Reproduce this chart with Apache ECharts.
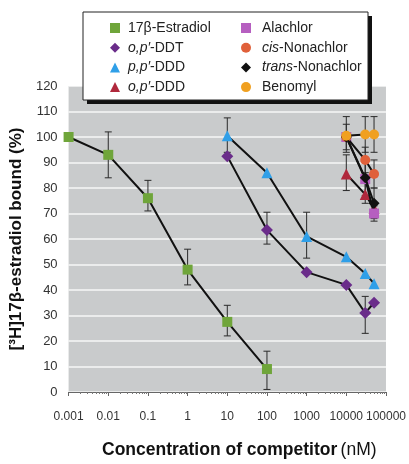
<!DOCTYPE html>
<html>
<head>
<meta charset="utf-8">
<script src="https://cdn.jsdelivr.net/npm/echarts@6/dist/echarts.min.js"></script>
<style>
  html, body { margin: 0; padding: 0; background: #fff; }
  #chart { width: 409px; height: 464px; }
</style>
</head>
<body>
<div id="chart"></div>
<script>
// tick labels of the log axis
const xTickLabels = ["0.001", "0.01", "0.1", "1", "10", "100", "1000", "10000", "100000"];

// 17beta-Estradiol
const estX = [0.001, 0.01, 0.1, 1, 10, 100];
const estY = [100, 93, 76, 48, 27.5, 9];
const estLo = [null, 84, 71, 42, 22, 1];
const estHi = [null, 102, 83, 56, 34, 16];

// o,p'-DDT
const ddtX = [10, 100, 1000, 10000, 30000, 50000];
const ddtY = [92.5, 63.5, 47, 42, 31, 35];
const ddtLo = [null, 58, null, null, 23, null];
const ddtHi = [null, 70.5, null, null, 37.5, null];

// p,p'-DDD
const ppdddX = [10, 100, 1000, 10000, 30000, 50000];
const ppdddY = [100.5, 86, 61, 53, 46.5, 42.5];
const ppdddLo = [94, null, 52.5, null, null, null];
const ppdddHi = [107.5, null, 70.5, null, null, null];

// o,p'-DDD
const opdddX = [10000, 30000, 50000];
const opdddY = [85.5, 77.5, 72];
const opdddLo = [79, 74, null];
const opdddHi = [93, 82, null];

// Alachlor
const alaX = [10000, 30000, 50000];
const alaY = [100, 83.5, 70];
const alaLo = [95, null, 67];
const alaHi = [105, null, 73];

// cis-Nonachlor
const cisX = [10000, 30000, 50000];
const cisY = [100, 91, 85.5];
const cisLo = [null, 86, 80];
const cisHi = [null, 96, 91];

// trans-Nonachlor
const transX = [10000, 30000, 50000];
const transY = [100, 84, 74];
const transLo = [null, 77, 68];
const transHi = [null, 92, 80];

// Benomyl
const benX = [10000, 30000, 50000];
const benY = [100.5, 101, 101];
const benLo = [94, 94, 94];
const benHi = [108, 108, 108];

const FONT = "'Liberation Sans', Arial, sans-serif";

const groups = [
  { name: "17β-Estradiol", x: estX, y: estY, lo: estLo, hi: estHi, color: "#6fa53a", symbol: "rect", size: 10 },
  { name: "o,p′-DDT", x: ddtX, y: ddtY, lo: ddtLo, hi: ddtHi, color: "#6a2c8a", symbol: "diamond", size: 12 },
  { name: "p,p′-DDD", x: ppdddX, y: ppdddY, lo: ppdddLo, hi: ppdddHi, color: "#2f9fe8", symbol: "triangle", size: 11 },
  { name: "o,p′-DDD", x: opdddX, y: opdddY, lo: opdddLo, hi: opdddHi, color: "#b0283c", symbol: "triangle", size: 11 },
  { name: "Alachlor", x: alaX, y: alaY, lo: alaLo, hi: alaHi, color: "#b65fc0", symbol: "rect", size: 10 },
  { name: "cis-Nonachlor", x: cisX, y: cisY, lo: cisLo, hi: cisHi, color: "#e0603a", symbol: "circle", size: 10 },
  { name: "trans-Nonachlor", x: transX, y: transY, lo: transLo, hi: transHi, color: "#111111", symbol: "diamond", size: 11 },
  { name: "Benomyl", x: benX, y: benY, lo: benLo, hi: benHi, color: "#f0a020", symbol: "circle", size: 10 }
];

const italicPart = {
  "o,p′-DDT": "o,p′",
  "p,p′-DDD": "p,p′",
  "o,p′-DDD": "o,p′",
  "cis-Nonachlor": "cis",
  "trans-Nonachlor": "trans"
};

function legendFormatter(name) {
  let it = italicPart[name];
  if (!it) return name;
  return "{i|" + it + "}" + name.slice(it.length);
}

function renderErr(params, api) {
  let x = api.value(0),
    pLo = api.coord([x, api.value(1)]),
    pHi = api.coord([x, api.value(2)]),
    w = 3.5,
    st = { stroke: "#2a2a2a", lineWidth: 1 };
  return {
    type: "group",
    children: [
      { type: "line", shape: { x1: pLo[0], y1: pLo[1], x2: pHi[0], y2: pHi[1] }, style: st },
      { type: "line", shape: { x1: pLo[0] - w, y1: pLo[1], x2: pLo[0] + w, y2: pLo[1] }, style: st },
      { type: "line", shape: { x1: pHi[0] - w, y1: pHi[1], x2: pHi[0] + w, y2: pHi[1] }, style: st }
    ]
  };
}

let errData = [];
groups.forEach(g => {
  for (let i = 0; i < g.x.length; i++) {
    if (g.lo[i] != null) errData.push([g.x[i], g.lo[i], g.hi[i]]);
  }
});

let series = [
  {
    type: "custom",
    name: "err",
    renderItem: renderErr,
    encode: { x: 0, y: [1, 2] },
    data: errData,
    z: 1,
    silent: true
  }
];
groups.forEach((g, k) => {
  series.push({
    type: "line",
    name: g.name,
    data: g.x.map((v, i) => [v, g.y[i]]),
    symbol: g.symbol,
    symbolSize: g.size,
    showAllSymbol: true,
    itemStyle: { color: g.color, opacity: 1 },
    lineStyle: { color: "#111", width: 2 },
    z: 2 + k,
    animation: false
  });
});

function legendData(list) {
  return list.map(g => ({ name: g.name, icon: g.symbol, itemStyle: { color: g.color } }));
}

let legendText = {
  fontFamily: FONT,
  fontSize: 14,
  color: "#222",
  lineHeight: 18,
  rich: { i: { fontFamily: FONT, fontSize: 14, fontStyle: "italic", color: "#222", lineHeight: 18 } }
};

let myChart = echarts.init(document.getElementById("chart"), null, { renderer: "canvas" }),
  option;
option = {
  animation: false,
  backgroundColor: "#ffffff",
  grid: {
    left: 66,
    right: 19,
    top: 86,
    bottom: 67,
    show: true,
    backgroundColor: "#c9cbcc",
    borderWidth: 0
  },
  graphic: [
    { type: "rect", z: 50, shape: { x: 87, y: 16, width: 285, height: 88 }, style: { fill: "#111" } },
    { type: "rect", z: 51, shape: { x: 83, y: 12, width: 285, height: 88 }, style: { fill: "#fff", stroke: "#222", lineWidth: 1 } }
  ],
  legend: [
    {
      data: legendData(groups.slice(0, 4)),
      orient: "vertical",
      left: 105,
      top: 14,
      itemWidth: 10,
      itemHeight: 10,
      itemGap: 1.7,
      z: 60,
      selectedMode: false,
      formatter: legendFormatter,
      textStyle: Object.assign({ padding: [0, 0, 0, 3] }, legendText)
    },
    {
      data: legendData(groups.slice(4)),
      orient: "vertical",
      left: 236,
      top: 14,
      itemWidth: 10,
      itemHeight: 10,
      itemGap: 1.7,
      z: 60,
      selectedMode: false,
      formatter: legendFormatter,
      textStyle: Object.assign({ padding: [0, 0, 0, 6] }, legendText)
    }
  ],
  xAxis: {
    type: "log",
    logBase: 10,
    min: 0.001,
    max: 100000,
    interval: 1,
    name: "{b|Concentration of competitor} {r|(nM)}",
    nameLocation: "middle",
    nameGap: 49,
    nameTextStyle: {
      padding: [0, 0, 0, 24],
      rich: {
        b: { fontFamily: FONT, fontSize: 17.5, fontWeight: "bold", color: "#111" },
        r: { fontFamily: FONT, fontSize: 17.5, color: "#111" }
      }
    },
    axisLine: { show: true, lineStyle: { color: "#666", width: 1 } },
    axisTick: { show: true, length: 4, lineStyle: { color: "#666" } },
    minorTick: { show: true, splitNumber: 9, length: 2, lineStyle: { color: "#777" } },
    splitLine: { show: false },
    axisLabel: {
      margin: 19,
      fontFamily: FONT,
      fontSize: 12,
      color: "#333",
      formatter: v => xTickLabels[Math.round(Math.log10(v)) + 3]
    }
  },
  yAxis: {
    type: "value",
    min: 0,
    max: 120,
    interval: 10,
    name: "[³H]17β-estradiol bound (%)",
    nameLocation: "middle",
    nameGap: 29,
    nameTextStyle: { fontFamily: FONT, fontSize: 17, fontWeight: "bold", color: "#111" },
    axisLine: { show: false },
    axisTick: { show: false },
    splitLine: { show: true, lineStyle: { color: "rgba(255,255,255,0.85)", width: 1.5 } },
    axisLabel: { margin: 11, fontFamily: FONT, fontSize: 13, color: "#333" }
  },
  series: series
};

if (option && typeof option === "object") myChart.setOption(option);
window.addEventListener("resize", function (event) {
  myChart.resize();
});
</script>
</body>
</html>
